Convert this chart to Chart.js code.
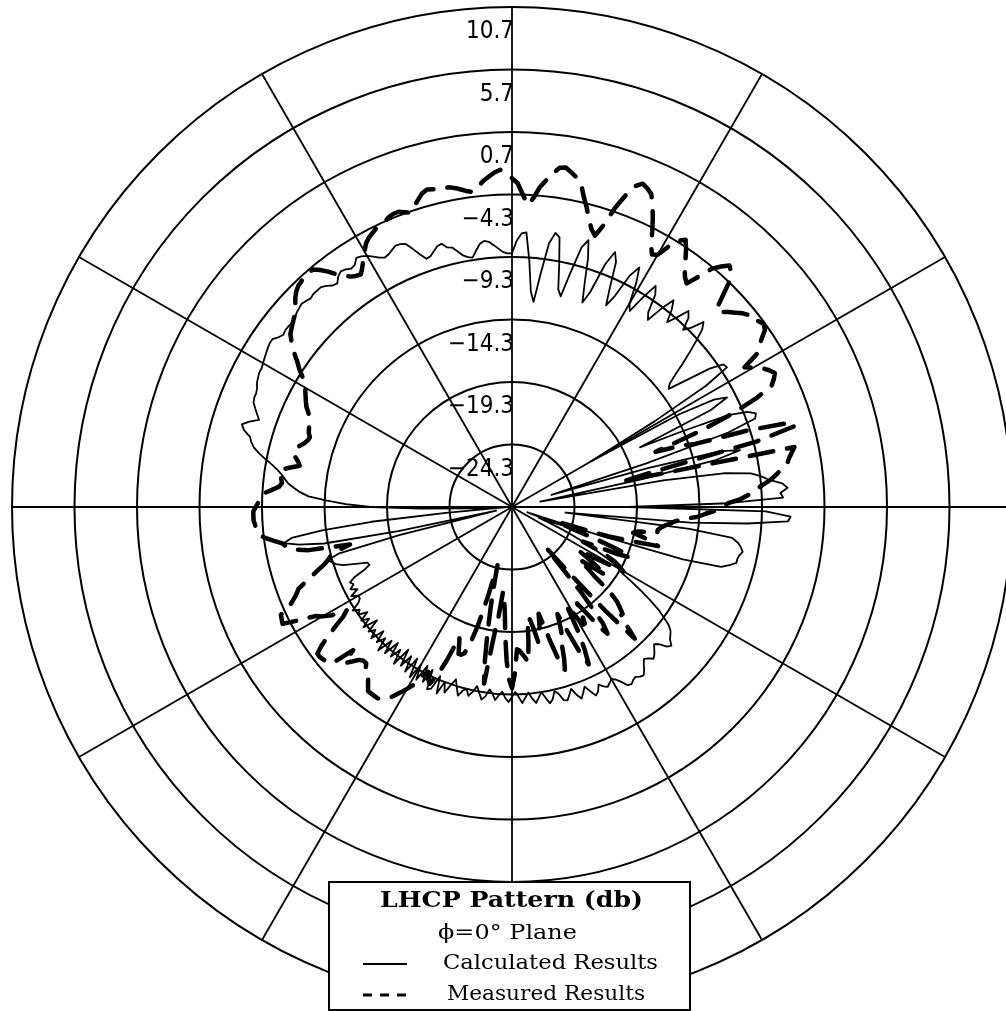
<!DOCTYPE html>
<html>
<head>
<meta charset="utf-8">
<script src="https://cdn.jsdelivr.net/npm/chart.js@4.4.1/dist/chart.umd.min.js"></script>
<style>
html, body { margin: 0; padding: 0; background: #fff; overflow: hidden; width: 1006px; height: 1011px; }
#chart { position: absolute; left: 0; top: 0; }
</style>
</head>
<body>
<canvas id="chart" width="1030" height="1012"></canvas>
<script>
// one value per degree, clockwise from the top of the plot
const calculated = [
    -9.0, -8.0, -7.4, -7.3, -9.5, -12.0, -12.8, -10.5, -8.0, -7.1,
    -7.4, -9.5, -11.5, -12.0, -10.0, -7.8, -7.1, -8.5, -10.5, -12.0,
    -11.0, -8.5, -7.3, -8.0, -10.0, -11.5, -10.5, -8.5, -7.6, -8.8,
    -10.5, -11.0, -9.5, -8.2, -8.8, -10.3, -10.8, -9.4, -8.3, -9.0,
    -10.0, -9.2, -8.2, -8.6, -9.6, -9.0, -8.0, -8.5, -9.5, -10.5,
    -11.5, -12.5, -13.3, -13.6, -12.0, -10.0, -8.9, -8.8, -11.0, -16.0,
    -22.0, -14.0, -11.0, -10.0, -11.6, -18.0, -14.5, -10.5, -9.0, -8.4,
    -8.6, -11.0, -18.0, -26.0, -18.0, -12.0, -10.5, -12.5, -19.0, -27.0,
    -17.0, -12.0, -10.0, -9.2, -8.6, -7.6, -7.2, -7.8, -7.6, -12.0,
    -20.0, -9.0, -7.0, -7.2, -10.4, -15.0, -25.0, -15.0, -11.5, -11.0,
    -10.7, -10.5, -10.7, -10.8, -10.8, -11.3, -11.9, -15.0, -22.0, -28.0,
    -25.0, -26.0, -27.0, -26.0, -25.0, -24.0, -23.0, -22.0, -21.0, -20.0,
    -19.5, -19.0, -18.0, -17.0, -16.0, -15.0, -14.3, -13.6, -13.2, -13.0,
    -12.8, -12.4, -12.6, -13.2, -13.5, -13.2, -12.9, -12.7, -13.0, -13.2,
    -12.9, -12.5, -12.2, -12.3, -12.5, -12.4, -12.2, -12.3, -12.8, -13.2,
    -13.4, -13.2, -13.0, -13.2, -13.5, -13.0, -12.8, -13.3, -13.8, -13.4,
    -13.0, -13.4, -14.0, -13.6, -13.2, -13.3, -13.9, -14.2, -13.6, -13.3,
    -13.8, -14.3, -13.9, -13.5, -13.9, -14.4, -14.0, -13.6, -14.1, -14.5,
    -14.1, -13.7, -14.0, -14.5, -14.2, -13.8, -14.3, -14.6, -14.0, -13.7,
    -14.2, -14.7, -14.2, -13.8, -14.3, -14.1, -13.6, -14.2, -14.8, -14.2,
    -13.5, -14.3, -13.2, -14.6, -13.4, -13.2, -14.8, -13.6, -14.9, -13.5,
    -14.7, -13.4, -15.0, -13.6, -14.9, -13.8, -15.2, -13.6, -14.8, -13.9,
    -15.1, -13.8, -14.9, -13.6, -14.7, -14.0, -15.0, -13.9, -14.6, -14.1,
    -15.2, -14.0, -14.8, -14.2, -15.0, -14.3, -14.6, -14.1, -14.8, -15.1,
    -15.1, -14.6, -15.3, -14.8, -15.2, -15.0, -15.5, -16.5, -17.0, -16.9,
    -16.0, -15.0, -14.5, -14.2, -14.0, -15.0, -20.0, -28.0, -20.0, -14.0,
    -12.0, -10.8, -11.5, -14.0, -18.0, -24.0, -28.0, -29.0, -26.0, -22.0,
    -18.0, -16.0, -14.5, -13.0, -12.3, -11.8, -11.3, -11.0, -10.7, -10.3,
    -9.8, -9.2, -8.6, -8.1, -7.8, -7.6, -7.0, -6.7, -7.2, -7.9,
    -7.6, -7.3, -7.0, -6.9, -6.9, -6.8, -6.6, -6.5, -6.4, -6.4,
    -6.3, -6.2, -6.1, -6.0, -5.9, -5.9, -6.2, -6.4, -6.3, -6.3,
    -6.4, -6.3, -6.1, -6.0, -5.9, -6.0, -6.1, -6.0, -6.0, -6.0,
    -6.2, -6.5, -6.6, -6.2, -6.0, -6.1, -6.3, -6.2, -5.8, -5.9,
    -6.1, -6.4, -6.7, -6.9, -6.8, -6.6, -6.4, -6.45, -6.6, -7.2,
    -7.8, -8.3, -8.2, -7.9, -7.6, -7.5, -7.9, -8.0, -8.4, -8.8,
    -9.0, -9.1, -8.6, -8.1, -7.9, -8.0, -8.3, -8.6, -8.9, -9.0
];

const measured = [
    -3.0, -3.4, -4.3, -5.1, -4.5, -3.6, -3.0, -2.4, -1.9, -1.8,
    -2.1, -2.4, -2.8, -3.8, -4.6, -5.5, -6.2, -6.6, -5.6, -4.0,
    -2.8, -1.8, -1.4, -1.6, -1.9, -2.7, -3.6, -4.6, -5.6, -6.2,
    -6.0, -5.0, -4.2, -3.8, -4.4, -5.1, -5.8, -6.3, -6.6, -5.6,
    -4.4, -3.8, -3.3, -3.6, -4.3, -5.5, -6.6, -6.4, -6.0, -5.6,
    -5.2, -4.9, -5.0, -4.6, -4.4, -4.6, -5.2, -5.8, -6.2, -7.6,
    -7.0, -6.4, -6.0, -5.7, -6.0, -6.4, -7.9, -10.0, -13.0, -17.0,
    -15.0, -13.8, -9.5, -6.5, -5.7, -9.0, -17.7, -20.0, -6.2, -6.5,
    -6.8, -7.0, -7.5, -8.0, -8.5, -9.2, -9.8, -10.3, -11.0, -12.0,
    -12.5, -13.0, -13.8, -14.4, -15.5, -16.2, -16.6, -17.0, -17.3, -17.5,
    -17.5, -19.0, -19.4, -18.5, -17.8, -17.2, -19.5, -21.3, -25.5, -25.0,
    -24.0, -22.0, -20.0, -19.0, -20.0, -22.0, -23.0, -21.0, -20.0, -19.5,
    -19.0, -20.7, -22.0, -23.0, -22.0, -21.0, -20.0, -21.5, -22.5, -21.5,
    -20.7, -18.9, -18.0, -17.5, -17.0, -17.0, -16.0, -14.9, -18.0, -22.0,
    -25.0, -20.4, -17.5, -16.6, -17.5, -19.0, -20.0, -19.0, -18.3, -18.3,
    -19.5, -20.3, -18.0, -16.5, -15.3, -16.5, -18.5, -20.0, -19.0, -18.0,
    -17.7, -16.5, -15.6, -16.5, -18.0, -19.5, -20.5, -19.5, -18.8, -18.3,
    -19.5, -20.2, -20.4, -18.5, -16.8, -17.2, -17.5, -17.8, -17.9, -16.0,
    -14.8, -15.5, -17.0, -19.0, -21.0, -22.0, -22.5, -20.5, -18.8, -15.0,
    -16.8, -19.0, -21.1, -23.0, -24.5, -22.0, -19.5, -18.0, -17.0, -16.8,
    -16.8, -17.5, -18.1, -16.0, -14.5, -13.7, -14.0, -14.5, -14.0, -13.0,
    -12.5, -12.0, -11.5, -11.0, -10.8, -10.6, -10.6, -10.6, -10.6, -11.0,
    -11.4, -11.4, -11.8, -12.2, -12.2, -12.0, -11.5, -11.0, -12.2, -10.2,
    -10.0, -9.9, -9.8, -9.8, -10.5, -11.4, -12.3, -13.2, -13.7, -12.5,
    -11.8, -11.3, -10.0, -8.7, -8.8, -8.9, -9.8, -10.3, -10.7, -11.0,
    -11.7, -12.4, -13.0, -13.6, -14.0, -14.3, -15.0, -16.0, -12.7, -11.5,
    -11.0, -10.7, -10.0, -9.3, -8.9, -8.8, -8.7, -8.6, -8.6, -8.6,
    -8.8, -9.0, -9.1, -9.3, -10.0, -10.6, -10.8, -10.7, -10.6, -10.5,
    -11.2, -12.0, -11.8, -11.5, -11.4, -11.3, -11.6, -11.9, -12.1, -12.2,
    -12.0, -11.9, -11.8, -11.7, -11.6, -11.3, -11.0, -10.8, -10.6, -10.4,
    -10.2, -10.0, -9.5, -9.0, -8.6, -8.1, -7.6, -7.2, -6.8, -6.6,
    -6.4, -6.2, -6.0, -5.6, -5.2, -4.9, -4.7, -4.6, -4.5, -4.5,
    -4.5, -4.9, -5.4, -6.0, -6.4, -6.8, -7.0, -7.1, -6.7, -6.2,
    -5.7, -5.2, -4.9, -4.7, -4.5, -4.4, -4.3, -4.1, -4.0, -4.0,
    -4.2, -4.4, -4.0, -3.6, -3.2, -3.0, -3.1, -3.2, -3.2, -3.25,
    -3.4, -3.6, -3.8, -3.9, -3.5, -3.1, -2.8, -2.5, -2.3, -2.6
];

const ringValues = [10.7, 5.7, 0.7, -4.3, -9.3, -14.3, -19.3, -24.3];
const ringLabels = ["10.7", "5.7", "0.7", "\u22124.3", "\u22129.3", "\u221214.3", "\u221219.3", "\u221224.3"];

const legendTitle = "LHCP Pattern (db)";
const legendPlane = "\u03d5=0\u00b0 Plane";
const seriesNames = ["Calculated Results", "Measured Results"];

const angles = calculated.map((v, i) => i);


function fitText(ctx, text, font, x, y, w) {
    ctx.font = font;
    const k = w / ctx.measureText(text).width;
    ctx.save();
    ctx.translate(x, y);
    ctx.scale(k, 1);
    ctx.fillText(text, 0, 0);
    ctx.restore();
}


const ringLabelPlugin = {
    id: "ringLabels",
    afterDraw(chart) {
        const ctx = chart.ctx;
        const r = chart.scales.r;
        ctx.save();
        ctx.fillStyle = "#000";
        ctx.font = '24px "Liberation Sans Narrow", "DejaVu Sans Condensed", sans-serif';
        ctx.textAlign = "right";
        ctx.textBaseline = "alphabetic";
        ringValues.forEach((v, i) => {
            const y = r.yCenter - r.getDistanceFromCenterForValue(v);
            ctx.fillText(ringLabels[i], r.xCenter + 2, y + 31);
        });
        ctx.restore();
    }
};


const boxLegendPlugin = {
    id: "boxLegend",
    afterDraw(chart) {
        const ctx = chart.ctx;
        ctx.save();
        ctx.fillStyle = "#fff";
        ctx.fillRect(329, 882, 361, 128);
        ctx.strokeStyle = "#000";
        ctx.lineWidth = 2;
        ctx.strokeRect(329, 882, 361, 128);

        ctx.fillStyle = "#000";
        ctx.textAlign = "left";
        ctx.textBaseline = "alphabetic";
        fitText(ctx, legendTitle, 'bold 22px "DejaVu Serif"', 380, 907, 263);
        fitText(ctx, legendPlane, '20px "DejaVu Serif"', 438, 939, 139);
        fitText(ctx, seriesNames[0], '20px "DejaVu Serif"', 443, 969, 215);
        fitText(ctx, seriesNames[1], '20px "DejaVu Serif"', 447, 1000, 198);

        ctx.lineWidth = 2;
        ctx.beginPath();
        ctx.moveTo(363, 964);
        ctx.lineTo(407, 964);
        ctx.stroke();

        ctx.lineWidth = 3;
        ctx.setLineDash([9, 8]);
        ctx.beginPath();
        ctx.moveTo(363, 995);
        ctx.lineTo(407, 995);
        ctx.stroke();
        ctx.restore();
    }
};


new Chart(document.getElementById("chart"), {
    type: "radar",
    data: {
        labels: angles,
        datasets: [
            {
                label: seriesNames[0],
                data: calculated,
                borderColor: "#000",
                borderWidth: 1.8,
                borderJoinStyle: "round",
                pointRadius: 0,
                fill: false,
                tension: 0
            },
            {
                label: seriesNames[1],
                data: measured,
                borderColor: "#000",
                borderWidth: 4.5,
                borderDash: [24, 14],
                borderCapStyle: "round",
                borderJoinStyle: "round",
                pointRadius: 0,
                fill: false,
                tension: 0
            }
        ]
    },
    options: {
        responsive: false,
        animation: false,
        layout: { padding: { left: 12, right: 18, top: 7, bottom: 5 } },
        plugins: {
            legend: { display: false },
            tooltip: { enabled: false }
        },
        scales: {
            r: {
                min: -29.3,
                max: 10.7,
                ticks: { stepSize: 5, display: false },
                pointLabels: { display: false },
                grid: { color: "#000", lineWidth: 2, circular: true },
                angleLines: {
                    color: "#000",
                    lineWidth: (c) => (c.index % 30 === 0 ? 1.8 : 0)
                }
            }
        }
    },
    plugins: [ringLabelPlugin, boxLegendPlugin]
});
</script>
</body>
</html>
